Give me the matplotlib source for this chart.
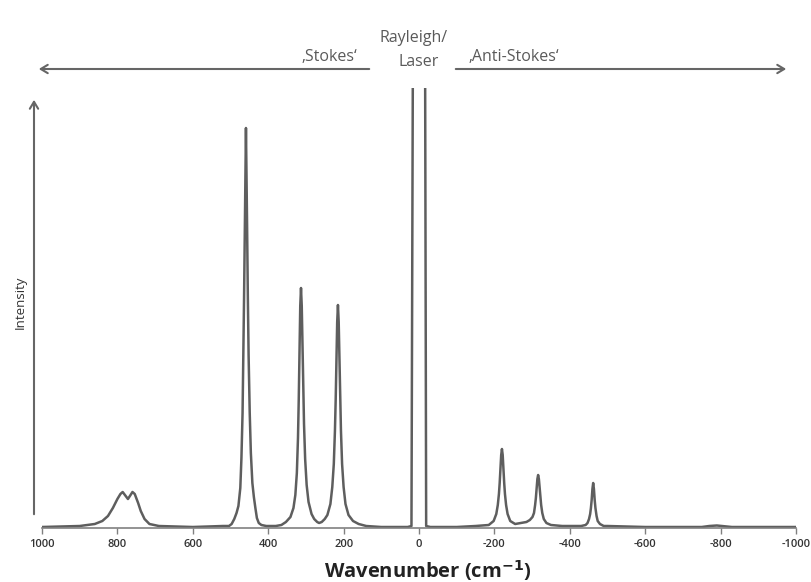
import matplotlib
matplotlib.use('Agg')
import matplotlib.pyplot as plt

plt.rcParams['font.family'] = ['Open Sans', 'DejaVu Sans']

# wavenumber (cm-1) and intensity (baseline = 0)
stokes_x = [1000, 900, 860, 840, 825, 812, 800, 792, 786, 780, 772, 765, 760, 754,
            745, 738, 728, 715, 690, 600, 520,
            504, 497, 490, 484, 479, 474, 471, 468, 466, 464, 462, 460, 459,
            458, 456, 454, 452, 449, 446, 442, 438, 434, 430, 425, 418, 405,
            380, 365, 353, 341, 333, 328, 324, 321, 319, 317, 315, 313,
            311, 309, 307, 305, 302, 298, 293, 285, 278, 270, 265,
            258, 250, 243, 235, 230, 226, 223, 221, 219, 217, 215,
            213, 211, 209, 207, 204, 200, 195, 187, 175, 160, 140, 100]
stokes_y = [1, 2, 4, 7, 12, 20, 29, 34, 36, 33, 29, 33, 36, 34,
            25, 17, 9, 4, 2, 1, 2,
            2, 4, 9, 15, 22, 40, 70, 115, 173, 231, 302, 370, 400,
            370, 302, 231, 173, 115, 75, 45, 31, 20, 10, 5, 3, 2,
            2, 3, 6, 11, 20, 33, 55, 90, 128, 175, 222, 240,
            222, 181, 138, 104, 69, 43, 26, 14, 9, 6, 5,
            6, 9, 13, 24, 41, 64, 97, 128, 168, 206, 223,
            206, 168, 128, 97, 64, 41, 24, 13, 7, 4, 2, 1]

rayleigh_x = [100, 30, 20, 16, -16, -19, -30, -100]
rayleigh_y = [1, 1, 2, 500, 500, 2, 1, 1]

anti_x = [-100, -150, -185, -198, -205, -209, -212, -214, -216, -218, -220,
          -222, -224, -226, -228, -231, -235, -242, -255, -270,
          -285, -294, -301, -305, -308, -310, -312, -314, -316,
          -318, -320, -322, -324, -327, -331, -338, -350, -380,
          -430, -442, -447, -451, -454, -456, -458, -460, -462,
          -464, -466, -468, -471, -474, -480, -490, -500,
          -600, -750, -770, -790, -830, -1000]
anti_y = [1, 2, 3, 7, 14, 23, 34, 45, 59, 73, 79,
          73, 59, 45, 34, 23, 14, 7, 4, 5,
          6, 8, 11, 15, 23, 30, 40, 49, 53,
          49, 40, 30, 23, 15, 9, 5, 3, 2,
          2, 3, 5, 9, 14, 20, 28, 39, 45,
          39, 28, 20, 12, 7, 4, 2, 2,
          1, 1, 2, 2.5, 1, 1]

tick_vals = [1000, 800, 600, 400, 200, 0, -200, -400, -600, -800, -1000]
tick_labels = ['1000', '800', '600', '400', '200', '0', '-200', '-400', '-600', '-800', '-1000']

W, H = 812, 582
fig = plt.figure(figsize=(W / 100, H / 100), dpi=100)
ax = fig.add_axes([42 / W, 54 / H, (796 - 42) / W, (528 - 88) / H])

line_col = '#5e5e5e'
text_col = '#5a5a5a'

xs = stokes_x + rayleigh_x + anti_x
ys = stokes_y + rayleigh_y + anti_y
ax.plot(xs, ys, color=line_col, lw=1.8, solid_joinstyle='round')

ax.set_xlim(1000, -1000)
ax.set_ylim(0, 440)
for s in ['top', 'right', 'left']:
    ax.spines[s].set_visible(False)
ax.spines['bottom'].set_color('#808080')
ax.spines['bottom'].set_linewidth(1.2)
ax.set_yticks([])
ax.set_xticks(tick_vals)
ax.set_xticklabels(tick_labels, fontsize=8, color='#333333', fontweight='semibold')
ax.tick_params(axis='x', direction='out', length=4, width=1, color='#808080', pad=4)


def px(x, y):
    # figure pixels (from top-left) -> figure fraction
    return (x / W, 1 - y / H)


fig.text(*px(428, 571), 'Wavenumber (cm$^{\\mathbf{-1}}$)', ha='center', va='center',
         fontsize=14.5, fontweight='bold', color='#222222')

arrow = dict(arrowstyle='->,head_length=0.5,head_width=0.3', color='#666666', lw=1.5)
ax.annotate('', xy=px(34, 97), xytext=px(34, 517), xycoords='figure fraction',
            textcoords='figure fraction', arrowprops=arrow, annotation_clip=False)
ax.annotate('', xy=px(36, 69), xytext=px(372, 69), xycoords='figure fraction',
            textcoords='figure fraction', arrowprops=arrow, annotation_clip=False)
ax.annotate('', xy=px(789, 69), xytext=px(453, 69), xycoords='figure fraction',
            textcoords='figure fraction', arrowprops=arrow, annotation_clip=False)

fig.text(*px(20, 302), 'Intensity', rotation=90, ha='center', va='center',
         fontsize=9.5, color='#333333')
fig.text(*px(357, 57), '\u201aStokes\u2018', ha='right', va='center', fontsize=11.5, color=text_col)
fig.text(*px(414, 38), 'Rayleigh/', ha='center', va='center', fontsize=11.5, color=text_col)
fig.text(*px(419, 62), 'Laser', ha='center', va='center', fontsize=11.5, color=text_col)
fig.text(*px(468, 57), '\u201aAnti-Stokes\u2018', ha='left', va='center', fontsize=11.5, color=text_col)

fig.savefig('out.png', dpi=100, facecolor='white')
